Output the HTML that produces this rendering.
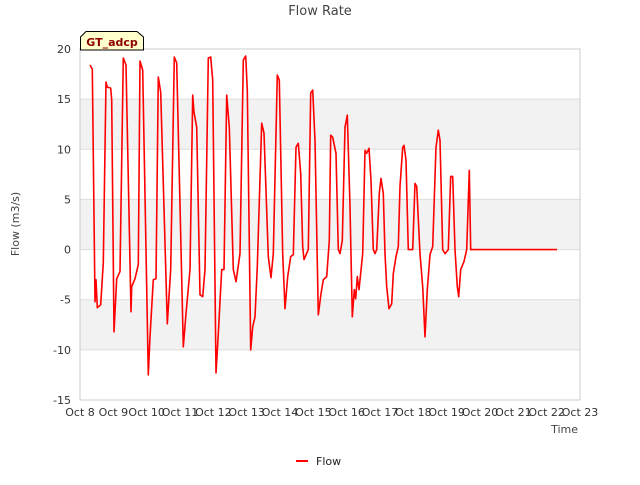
<!DOCTYPE html>
<html><head><meta charset="utf-8"><style>
body{margin:0;background:#fff;}
svg text{font-family:"DejaVu Sans","Liberation Sans",sans-serif;}
</style></head><body>
<svg id="chart" width="640" height="480" xmlns="http://www.w3.org/2000/svg">
<rect width="640" height="480" fill="#fff"/>
<g id="bands"></g>
<g id="grid"></g>
<rect x="80" y="49" width="500" height="351" fill="none" stroke="#ccc"/>
<g id="xticks"></g><g id="yticks"></g>
<path id="flow" fill="none" stroke="#f00" stroke-width="1.6" stroke-linejoin="round"/>
<text x="320" y="15" text-anchor="middle" font-size="13" fill="#444">Flow Rate</text>
<text x="19" y="224" text-anchor="middle" font-size="11" fill="#444" transform="rotate(-90 19 224)">Flow (m3/s)</text>
<text x="578" y="433" text-anchor="end" font-size="11" fill="#444">Time</text>
<g>
<path d="M80.5,50 L80.5,37 L86,31.5 L137,31.5 L143.5,37 L143.5,50 Z" fill="#ffffcc" stroke="#000"/>
<text x="112" y="46" text-anchor="middle" font-size="11" font-weight="bold" fill="#8b0000">GT_adcp</text>
</g>
<g>
<line x1="296" y1="461" x2="308" y2="461" stroke="#f00" stroke-width="2"/>
<text x="316" y="465" font-size="11" fill="#222">Flow</text>
</g>
</svg>
<script>
const days=[0.30,0.37,0.45,0.48,0.52,0.62,0.70,0.78,0.82,0.92,0.95,1.02,1.10,1.20,1.30,1.38,1.53,1.55,1.65,1.75,1.80,1.88,2.05,2.10,2.20,2.28,2.35,2.42,2.62,2.72,2.83,2.90,3.10,3.18,3.30,3.38,3.42,3.50,3.60,3.68,3.75,3.85,3.92,3.98,4.08,4.15,4.25,4.32,4.40,4.48,4.60,4.68,4.80,4.90,4.97,5.02,5.12,5.18,5.25,5.32,5.45,5.52,5.65,5.73,5.80,5.92,5.98,6.08,6.15,6.23,6.32,6.40,6.48,6.55,6.62,6.68,6.72,6.85,6.92,6.98,7.05,7.15,7.23,7.30,7.40,7.48,7.52,7.58,7.68,7.75,7.80,7.87,7.95,8.02,8.10,8.17,8.23,8.27,8.32,8.37,8.48,8.55,8.60,8.67,8.73,8.80,8.85,8.90,8.98,9.03,9.10,9.15,9.20,9.27,9.35,9.40,9.48,9.55,9.60,9.68,9.72,9.78,9.85,9.98,10.05,10.10,10.20,10.28,10.35,10.42,10.50,10.58,10.68,10.75,10.80,10.88,10.95,11.05,11.12,11.18,11.25,11.32,11.36,11.42,11.52,11.60,11.68,11.72,14.31];
const flow=[18.4,18,-5.2,-3,-5.8,-5.5,-1.3,16.7,16.2,16.1,14.9,-8.2,-2.9,-2.2,19.1,18.4,-6.2,-3.7,-2.9,-1.5,18.8,17.9,-12.5,-8.7,-3,-2.9,17.2,15.7,-7.4,-2,19.2,18.6,-9.7,-6.4,-2,15.4,13.7,12.2,-4.5,-4.7,-2,19.1,19.2,16.9,-12.3,-8.4,-2,-2,15.4,12.2,-2,-3.2,-0.4,18.9,19.3,15.9,-10,-7.7,-6.7,-1.7,12.6,11.6,-0.7,-2.8,-0.4,17.4,16.9,-0.4,-5.9,-2.7,-0.7,-0.5,10.2,10.6,7.6,0.3,-1,0,15.6,15.9,10.9,-6.5,-4.4,-3,-2.7,0.9,11.4,11.2,9.6,0,-0.4,0.9,12.2,13.4,4.3,-6.7,-4,-4.9,-2.7,-4,-0.4,9.9,9.6,10.1,6.9,0,-0.4,0,5.6,7.1,5.6,-0.4,-3.7,-5.9,-5.4,-2.4,-0.7,0.3,6.3,10.2,10.4,8.9,0,0,6.6,6.3,-0.4,-3.7,-8.7,-4,-0.5,0.3,10.2,11.9,10.9,0,-0.4,0,7.3,7.3,0,-3.7,-4.7,-2,-1.2,0,7.9,0,0];
const xTickLabels=["Oct 8","Oct 9","Oct 10","Oct 11","Oct 12","Oct 13","Oct 14","Oct 15","Oct 16","Oct 17","Oct 18","Oct 19","Oct 20","Oct 21","Oct 22","Oct 23"];
const yTickValues=[-15,-10,-5,0,5,10,15,20];
const X0=80,X1=580,Y0=400,Y1=49,DMAX=15,VMIN=-15,VMAX=20;
function xs(d){return X0+(X1-X0)*d/DMAX;}
function ys(v){return Y0-(Y0-Y1)*(v-VMIN)/(VMAX-VMIN);}
const NS="http://www.w3.org/2000/svg";
function mk(tag,attrs,parent){const e=document.createElementNS(NS,tag);for(const k in attrs)e.setAttribute(k,attrs[k]);document.getElementById(parent).appendChild(e);return e;}
[[10,15],[0,5],[-10,-5]].forEach(b=>{
const r=mk('rect',{x:X0,y:ys(b[1]),width:X1-X0,height:ys(b[0])-ys(b[1]),fill:'#f2f2f2'},'bands');


});
yTickValues.forEach(v=>{
const l=mk('line',{x1:X0,x2:X1,y1:ys(v),y2:ys(v),stroke:'#ddd'},'grid');


const t=mk('text',{x:X0-9,y:ys(v)+4,'text-anchor':'end','font-size':11,fill:'#333'},'yticks');
t.textContent=v;


});
xTickLabels.forEach((s,i)=>{
const t=mk('text',{x:xs(i),y:Y0+16,'text-anchor':'middle','font-size':11,fill:'#333'},'xticks');
t.textContent=s;


});
document.getElementById('flow').setAttribute('d',days.map((d,i)=>(i?'L':'M')+xs(d).toFixed(1)+','+ys(flow[i]).toFixed(1)).join(' '));
</script>
</body></html>
